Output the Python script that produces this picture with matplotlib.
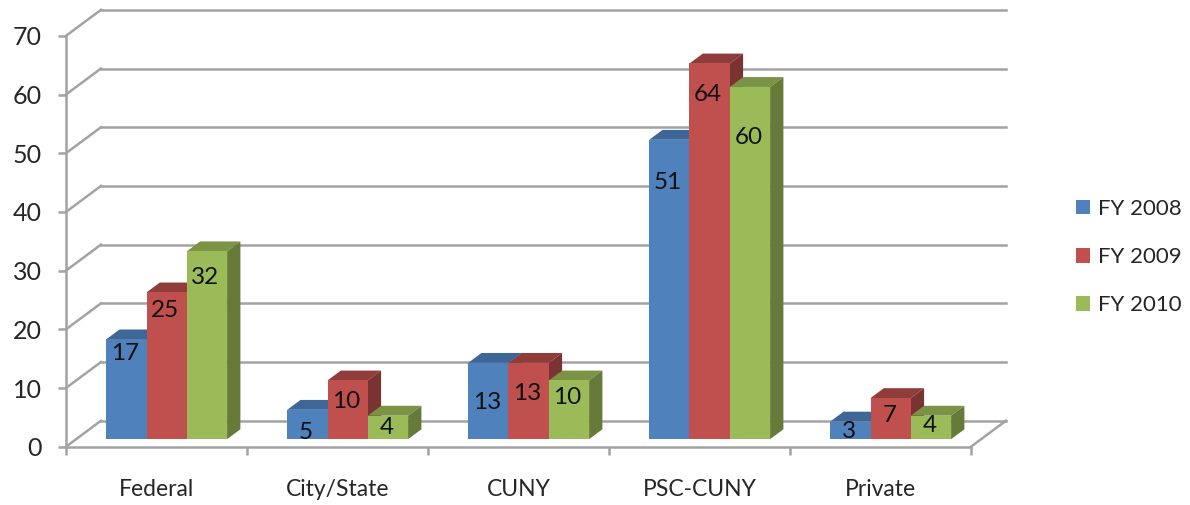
import matplotlib
matplotlib.use("Agg")
import matplotlib.pyplot as plt
from matplotlib.patches import Patch, Polygon

# --- data ---
categories = ["Federal", "City/State", "CUNY", "PSC-CUNY", "Private"]
series_names = ["FY 2008", "FY 2009", "FY 2010"]
fy2008 = [17, 5, 13, 51, 3]
fy2009 = [25, 10, 13, 64, 7]
fy2010 = [32, 4, 10, 60, 4]
y_ticks = [0, 10, 20, 30, 40, 50, 60, 70]

# how far each data label sits below its bar top, in points (the original is uneven)
label_drop_2008 = [10, 16, 28.5, 30.5, 7.5]
label_drop_2009 = [13, 15, 22, 22.5, 12.5]
label_drop_2010 = [18.5, 8.5, 12, 36.5, 7]

front_colors = ["#4F81BD", "#C0504D", "#9BBB59"]
top_colors = ["#3E6696", "#8F3C3A", "#7A9345"]
side_colors = ["#3A5F8C", "#7A3331", "#667A3A"]
grid_color = "#A3A3A3"
text_color = "#262626"

plt.rcParams["font.family"] = ["Lato", "DejaVu Sans"]

W, H = 1190, 505
fig = plt.figure(figsize=(W / 100, H / 100), dpi=100)
ax = fig.add_axes([66 / W, (H - 446.7) / H, (971 - 66) / W, (446.7 - 35.8) / H])
ax.set_xlim(0, len(categories))
ax.set_ylim(0, 70)

# depth of the fake 3D floor, in data units
depth_x = 35 / 181
depth_y = 26 / 5.87

# --- walls ---
for v in y_ticks:
    ax.plot([0, depth_x], [v, v + depth_y], color=grid_color, lw=1.8, clip_on=False, zorder=1)
    ax.plot([depth_x, len(categories) + depth_x], [v + depth_y, v + depth_y],
            color=grid_color, lw=1.8, clip_on=False, zorder=1)
ax.plot([len(categories), len(categories) + depth_x], [0, depth_y],
        color=grid_color, lw=1.8, clip_on=False, zorder=1)

# --- bars ---
bar_w = 40.3 / 181
bar_front = 0.29    # where the bar front stands on the floor (0 front, 1 back)
bar_depth = 0.38


def draw_bar(x0, value, s):
    fx = x0 + bar_front * depth_x
    base = bar_front * depth_y
    top = base + value
    dx = bar_depth * depth_x
    dy = bar_depth * depth_y
    z = 3 + s
    ax.add_patch(Polygon([(fx, top), (fx + bar_w, top), (fx + bar_w + dx, top + dy), (fx + dx, top + dy)],
                         fc=top_colors[s], ec="none", clip_on=False, zorder=z))
    ax.add_patch(Polygon([(fx + bar_w, base), (fx + bar_w + dx, base + dy), (fx + bar_w + dx, top + dy), (fx + bar_w, top)],
                         fc=side_colors[s], ec="none", clip_on=False, zorder=z))
    ax.add_patch(Polygon([(fx, base), (fx + bar_w, base), (fx + bar_w, top), (fx, top)],
                         fc=front_colors[s], ec="none", clip_on=False, zorder=z))
    return fx + bar_w / 2, top


all_values = [fy2008, fy2009, fy2010]
all_drops = [label_drop_2008, label_drop_2009, label_drop_2010]
for s in range(3):
    for i, val in enumerate(all_values[s]):
        x0 = i + 0.5 - 1.5 * bar_w + s * bar_w
        cx, cy = draw_bar(x0, val, s)
        ax.annotate(str(val), (cx, cy), xytext=(-1, -all_drops[s][i]), textcoords="offset points",
                    ha="center", va="center", fontsize=17.5, color="#111111", zorder=10,
                    annotation_clip=False)

# --- axes ---
for side in ["top", "right"]:
    ax.spines[side].set_visible(False)
for side in ["left", "bottom"]:
    ax.spines[side].set_color(grid_color)
    ax.spines[side].set_linewidth(1.8)
ax.patch.set_visible(False)

ax.set_yticks(y_ticks)
ax.set_xticks(range(len(categories) + 1))
ax.set_xticklabels([])
ax.set_xticks([i + 0.5 for i in range(len(categories))], minor=True)
ax.set_xticklabels(categories, minor=True)
ax.tick_params(axis="y", length=5.5, width=1.8, color=grid_color, pad=12, labelsize=18, labelcolor=text_color)
ax.tick_params(axis="x", which="major", length=5.5, width=1.8, color=grid_color)
ax.tick_params(axis="x", which="minor", length=0, pad=23.5, labelsize=16.5, labelcolor=text_color)

# --- legend ---
handles = [Patch(fc=c, ec="none") for c in front_colors]
fig.legend(handles, series_names, loc="upper left", bbox_to_anchor=(1056 / W, (H - 179) / H),
           frameon=False, fontsize=16, handlelength=0.62, handleheight=0.62, handletextpad=0.36,
           labelspacing=1.27, labelcolor=text_color)

fig.savefig("out.png", dpi=100)
